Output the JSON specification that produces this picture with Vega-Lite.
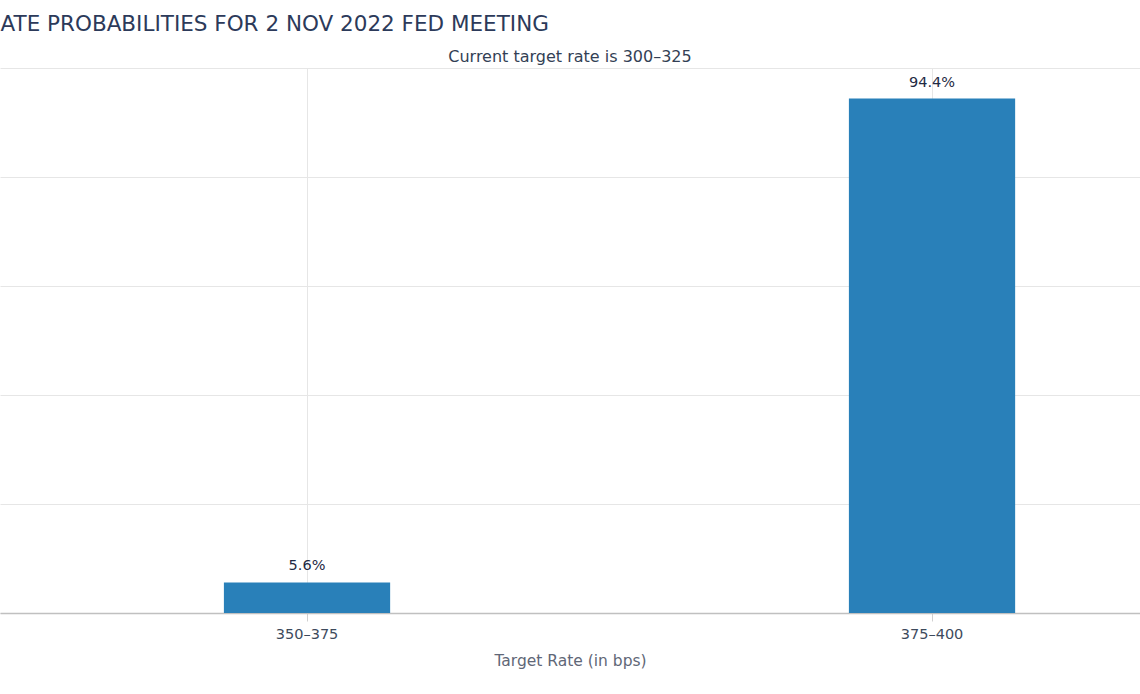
{
  "$schema": "https://vega.github.io/schema/vega-lite/v6.json",
  "width": 1140,
  "height": 545,
  "autosize": {"type": "none"},
  "padding": {"left": 0, "right": 0, "top": 68, "bottom": 81},
  "background": "white",
  "title": {
    "text": "Current target rate is 300–325",
    "anchor": "middle",
    "frame": "group",
    "font": "DejaVu Sans",
    "fontSize": 16,
    "fontWeight": "normal",
    "color": "#333f55",
    "offset": 5,
    "dy": 57
  },
  "data": {
    "values": [
      {"rate": "350–375", "prob": 0.056},
      {"rate": "375–400", "prob": 0.944}
    ]
  },
  "encoding": {
    "x": {
      "field": "rate",
      "type": "nominal",
      "sort": null,
      "scale": {"paddingInner": 0.734, "paddingOuter": 0.279, "align": 0.642},
      "axis": {
        "title": "Target Rate (in bps)",
        "titleFont": "DejaVu Sans",
        "titleFontSize": 15.5,
        "titleFontWeight": "normal",
        "titleColor": "#5f6777",
        "titlePadding": 13,
        "labelFont": "DejaVu Sans",
        "labelFontSize": 14.5,
        "labelColor": "#3d4a5c",
        "labelAngle": 0,
        "labelPadding": 6,
        "domainColor": "#c0c0c0",
        "domainWidth": 1.5,
        "tickColor": "#d0d0d0",
        "tickSize": 8,
        "grid": true,
        "gridColor": "#e6e6e6",
        "bandPosition": 0.5
      }
    },
    "y": {
      "field": "prob",
      "type": "quantitative",
      "scale": {"domain": [0, 1]},
      "axis": {
        "title": "ATE PROBABILITIES FOR 2 NOV 2022 FED MEETING",
        "titleFont": "DejaVu Sans",
        "titleFontSize": 21.5,
        "titleFontWeight": "normal",
        "titleColor": "#2c3a5a",
        "titleAngle": 0,
        "titleAlign": "left",
        "titleBaseline": "alphabetic",
        "titleX": 0,
        "titleY": -38,
        "labels": false,
        "ticks": false,
        "domain": false,
        "values": [0, 0.2, 0.4, 0.6, 0.8, 1],
        "gridColor": "#e6e6e6"
      }
    }
  },
  "layer": [
    {"mark": {"type": "bar", "color": "#2980b9"}},
    {
      "mark": {"type": "text", "baseline": "bottom", "dy": -9, "font": "DejaVu Sans", "fontSize": 14.5, "color": "#1f2a44"},
      "encoding": {"text": {"field": "prob", "type": "quantitative", "format": ".1%"}}
    }
  ],
  "config": {"view": {"stroke": null}}
}
